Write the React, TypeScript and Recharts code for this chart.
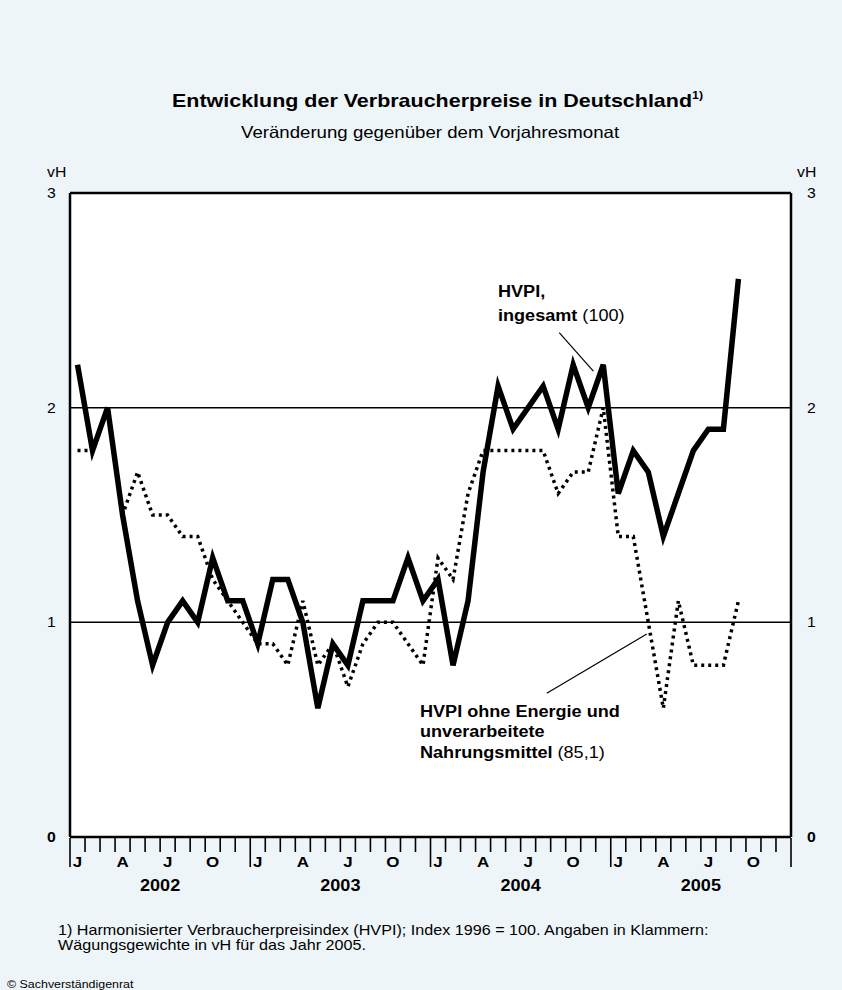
import React from 'react';
import { LineChart, Line, XAxis, YAxis, CartesianGrid, ReferenceLine } from 'recharts';

// Monthly values, Jan 2002 .. Dec 2005 (vH change vs. previous-year month)
const years = ['2002', '2003', '2004', '2005'];
const monthLetters = ['J', '', '', 'A', '', '', 'J', '', '', 'O', '', ''];

const hvpi2002 = [2.2, 1.8, 2.0, 1.5, 1.1, 0.8, 1.0, 1.1, 1.0, 1.3, 1.1, 1.1];
const hvpi2003 = [0.9, 1.2, 1.2, 1.0, 0.6, 0.9, 0.8, 1.1, 1.1, 1.1, 1.3, 1.1];
const hvpi2004 = [1.2, 0.8, 1.1, 1.7, 2.1, 1.9, 2.0, 2.1, 1.9, 2.2, 2.0, 2.2];
const hvpi2005 = [1.6, 1.8, 1.7, 1.4, 1.6, 1.8, 1.9, 1.9, 2.6, null, null, null];

const core2002 = [1.8, 1.8, 2.0, 1.5, 1.7, 1.5, 1.5, 1.4, 1.4, 1.2, 1.1, 1.0];
const core2003 = [0.9, 0.9, 0.8, 1.1, 0.8, 0.9, 0.7, 0.9, 1.0, 1.0, 0.9, 0.8];
const core2004 = [1.3, 1.2, 1.6, 1.8, 1.8, 1.8, 1.8, 1.8, 1.6, 1.7, 1.7, 2.0];
const core2005 = [1.4, 1.4, 1.0, 0.6, 1.1, 0.8, 0.8, 0.8, 1.1, null, null, null];

const yTicks = [0, 1, 2, 3];
const gridValues = [1, 2];

const hvpi = [...hvpi2002, ...hvpi2003, ...hvpi2004, ...hvpi2005];
const core = [...core2002, ...core2003, ...core2004, ...core2005];
const data = hvpi.map((v, i) => ({ x: i + 0.5, hvpi: v, core: core[i] }));

const nMonths = years.length * 12;
const xTicks: number[] = [];
for (let i = 0; i <= nMonths * 2; i++) xTicks.push(i / 2);

const FONT = "'Liberation Sans', Arial, Helvetica, sans-serif";
const SX = 1.13;
const BG = '#EEF5F9';

function T(props: any) {
  const { x, y, size, bold, anchor, children } = props;
  return (
    <text
      transform={`translate(${x},${y}) scale(${SX},1)`}
      fontSize={size}
      fontWeight={bold ? 'bold' : 'normal'}
      textAnchor={anchor || 'start'}
      fontFamily={FONT}
      fill="#000"
    >
      {children}
    </text>
  );
}

const XTick = (props: any) => {
  const { x, y, payload } = props;
  const v: number = payload.value;
  const els: any[] = [];
  if (Number.isInteger(v)) {
    const long = v % 12 === 0;
    els.push(<line key="t" x1={x} x2={x} y1={y + 1} y2={y + (long ? 30 : 15)} stroke="#000" strokeWidth={1.6} />);
    if (v % 12 === 6) {
      els.push(
        <T key="y" x={x} y={y + 54} size={16} bold anchor="middle">
          {years[Math.floor(v / 12)]}
        </T>
      );
    }
  } else {
    const m = Math.floor(v) % 12;
    const letter = monthLetters[m];
    if (letter) {
      els.push(
        <T key="m" x={x} y={y + 30} size={15} bold anchor="middle">
          {letter}
        </T>
      );
    }
  }
  return <g>{els}</g>;
};

const LeftTick = (props: any) => {
  const { x, y, payload } = props;
  return (
    <T x={x - 23} y={y + 5} size={14} bold={payload.value === 0}>
      {payload.value}
    </T>
  );
};

const RightTick = (props: any) => {
  const { x, y, payload } = props;
  return (
    <T x={x + 16} y={y + 5} size={14} bold={payload.value === 0}>
      {payload.value}
    </T>
  );
};

export default function App() {
  return (
    <div style={{ position: 'absolute', left: 0, top: 0, width: 842, height: 990, background: BG, overflow: 'hidden' }}>
      <LineChart width={842} height={990} data={data} margin={{ top: 193, right: 0, bottom: 0, left: 0 }}>
        <CartesianGrid yAxisId="l" fill="#ffffff" vertical={false} horizontal={false} />
        <XAxis
          type="number"
          dataKey="x"
          domain={[0, nMonths]}
          ticks={xTicks}
          interval={0}
          height={153}
          tickSize={0}
          tickMargin={0}
          tickLine={false}
          axisLine={{ stroke: '#000', strokeWidth: 2.5 }}
          tick={<XTick />}
          allowDataOverflow
        />
        <YAxis
          yAxisId="l"
          orientation="left"
          width={70}
          domain={[0, 3]}
          ticks={yTicks}
          interval={0}
          tickSize={0}
          tickMargin={0}
          tickLine={false}
          axisLine={{ stroke: '#000', strokeWidth: 2.5 }}
          tick={<LeftTick />}
        />
        <YAxis
          yAxisId="r"
          orientation="right"
          width={51}
          domain={[0, 3]}
          ticks={yTicks}
          interval={0}
          tickSize={0}
          tickMargin={0}
          tickLine={false}
          axisLine={{ stroke: '#000', strokeWidth: 2.5 }}
          tick={<RightTick />}
        />
        {gridValues.map((g) => (
          <ReferenceLine key={g} yAxisId="l" y={g} stroke="#000" strokeWidth={1.5} />
        ))}
        <ReferenceLine yAxisId="l" y={3} stroke="#000" strokeWidth={2.5} />
        <ReferenceLine
          yAxisId="l"
          segment={[{ x: 32.57, y: 2.35 }, { x: 34.84, y: 2.17 }]}
          stroke="#000"
          strokeWidth={1.2}
        />
        <ReferenceLine
          yAxisId="l"
          segment={[{ x: 31.74, y: 0.67 }, { x: 38.4, y: 0.946 }]}
          stroke="#000"
          strokeWidth={1.2}
        />
        <Line
          yAxisId="r"
          type="linear"
          dataKey="core"
          stroke="#000"
          strokeWidth={3.5}
          strokeDasharray="3 4"
          dot={false}
          isAnimationActive={false}
        />
        <Line
          yAxisId="l"
          type="linear"
          dataKey="hvpi"
          stroke="#000"
          strokeWidth={5.5}
          dot={false}
          isAnimationActive={false}
        />
      </LineChart>
      <svg width={842} height={990} style={{ position: 'absolute', left: 0, top: 0, pointerEvents: 'none' }}>
        <text transform={`translate(172,107) scale(${SX},1)`} fontFamily={FONT} fontSize={19} fontWeight="bold" fill="#000">
          Entwicklung der Verbraucherpreise in Deutschland
          <tspan fontSize={11} dy={-8}>1)</tspan>
        </text>
        <T x={241} y={138} size={16.5}>Veränderung gegenüber dem Vorjahresmonat</T>
        <T x={47} y={177} size={14}>vH</T>
        <T x={797} y={177} size={14}>vH</T>
        <T x={498} y={297} size={16} bold>HVPI,</T>
        <text transform={`translate(498,321) scale(${SX},1)`} fontFamily={FONT} fontSize={16} fill="#000">
          <tspan fontWeight="bold">ingesamt</tspan> (100)
        </text>
        <T x={420} y={717} size={16} bold>HVPI ohne Energie und</T>
        <T x={420} y={737} size={16} bold>unverarbeitete</T>
        <text transform={`translate(420,758) scale(${SX},1)`} fontFamily={FONT} fontSize={16} fill="#000">
          <tspan fontWeight="bold">Nahrungsmittel</tspan> (85,1)
        </text>
        <T x={58} y={935} size={14.3}>1) Harmonisierter Verbraucherpreisindex (HVPI); Index 1996 = 100. Angaben in Klammern:</T>
        <T x={58} y={950} size={14.3}>Wägungsgewichte in vH für das Jahr 2005.</T>
        <T x={7} y={988} size={11}>© Sachverständigenrat</T>
      </svg>
    </div>
  );
}
